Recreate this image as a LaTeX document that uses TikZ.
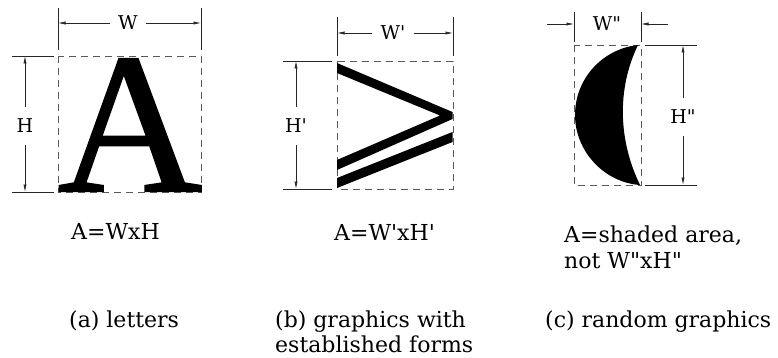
\documentclass[tikz,border=0pt]{standalone}
\usepackage{fontspec}
\usetikzlibrary{arrows.meta}
\newfontfamily\capfont{DejaVu Serif}
\newfontfamily\bigAfont{Liberation Serif}[FakeBold=1]
\tikzset{
  ink/.style={line width=0.7pt, draw=black!85},
  dimarrow/.style={ink, -{Latex[length=7.5pt,width=3.2pt]}},
  dashbox/.style={line width=0.9pt, draw=black!65, dash pattern=on 7pt off 5pt},
  dimtext/.style={font=\capfont\fontsize{19}{19}\selectfont, text height=14pt, text depth=0pt},
  hlabel/.style={dimtext, inner xsep=8pt, inner ysep=2pt},
  vlabel/.style={dimtext, inner xsep=2pt, inner ysep=12pt},
  caption/.style={anchor=base west, inner sep=0pt, font=\capfont\fontsize{22}{22}\selectfont},
}
\begin{document}
\begin{tikzpicture}[x=1pt,y=-1pt]
\useasboundingbox (0,0) rectangle (778,358);

% ---------------- (a) letters ----------------
\coordinate (aTL) at (58,56);
\coordinate (aBR) at (201,192);
\draw[dashbox] (aTL) rectangle (aBR);
\node[anchor=base, inner sep=0pt, text depth=0pt, font=\bigAfont\fontsize{200}{200}\selectfont] (Aglyph) at (130,191) {A};
% extension lines
\coordinate (aExL1) at (58,8);   \coordinate (aExL2) at (58,50);
\coordinate (aExR1) at (201,8);  \coordinate (aExR2) at (201,50);
\coordinate (aExT1) at (12,56);  \coordinate (aExT2) at (54,56);
\coordinate (aExB1) at (12,192); \coordinate (aExB2) at (54,192);
\draw[ink] (aExL1) -- (aExL2);
\draw[ink] (aExR1) -- (aExR2);
\draw[ink] (aExT1) -- (aExT2);
\draw[ink] (aExB1) -- (aExB2);
% W dimension
\coordinate (aWl) at (58,23); \coordinate (aWr) at (201,23);
\node[hlabel] (aW) at (128,23) {W};
\draw[dimarrow] (aW.west) -- (aWl);
\draw[dimarrow] (aW.east) -- (aWr);
% H dimension
\coordinate (aHt) at (25,56); \coordinate (aHb) at (25,192);
\node[vlabel] (aH) at (25,126) {H};
\draw[dimarrow] (aH.north) -- (aHt);
\draw[dimarrow] (aH.south) -- (aHb);

% ---------------- (b) graphics with established forms ----------------
\coordinate (bTL) at (337,61);
\coordinate (bBR) at (453,189);
\draw[dashbox] (bTL) rectangle (bBR);
\fill (337,63) -- (452.5,112) -- (452.5,119) -- (337,170) -- (337,160) -- (440,115.5) -- (337,73) -- cycle;
\fill (452.5,132) -- (452.5,142) -- (337,188) -- (337,178) -- cycle;
\coordinate (bExL1) at (337,17);  \coordinate (bExL2) at (337,56);
\coordinate (bExR1) at (453,17);  \coordinate (bExR2) at (453,56);
\coordinate (bExT1) at (283,61);  \coordinate (bExT2) at (332,61);
\coordinate (bExB1) at (283,189); \coordinate (bExB2) at (332,189);
\draw[ink] (bExL1) -- (bExL2);
\draw[ink] (bExR1) -- (bExR2);
\draw[ink] (bExT1) -- (bExT2);
\draw[ink] (bExB1) -- (bExB2);
\coordinate (bWl) at (337,33); \coordinate (bWr) at (453,33);
\node[hlabel] (bW) at (393,33) {W'};
\draw[dimarrow] (bW.west) -- (bWl);
\draw[dimarrow] (bW.east) -- (bWr);
\coordinate (bHt) at (296,61); \coordinate (bHb) at (296,189);
\node[vlabel] (bH) at (296,126) {H'};
\draw[dimarrow] (bH.north) -- (bHt);
\draw[dimarrow] (bH.south) -- (bHb);

% ---------------- (c) random graphics ----------------
\coordinate (cTL) at (574,45);
\coordinate (cBR) at (641,185);
\draw[dashbox] (cTL) rectangle (cBR);
\fill (638,45) .. controls (602,49) and (575,79) .. (575,115)
      .. controls (575,151) and (604,182.5) .. (640,185)
      .. controls (618.5,140.7) and (616.5,89.3) .. (638,45) -- cycle;
\coordinate (cExL1) at (574,12);  \coordinate (cExL2) at (574,42);
\coordinate (cExR1) at (641,12);  \coordinate (cExR2) at (641,42);
\coordinate (cExT1) at (645,45);  \coordinate (cExT2) at (697,45);
\coordinate (cExB1) at (645,185); \coordinate (cExB2) at (697,185);
\draw[ink] (cExL1) -- (cExL2);
\draw[ink] (cExR1) -- (cExR2);
\draw[ink] (cExT1) -- (cExT2);
\draw[ink] (cExB1) -- (cExB2);
\node[dimtext, inner sep=2pt] (cW) at (607,24) {W"};
\coordinate (cWa1) at (547,24); \coordinate (cWl) at (574,24);
\coordinate (cWa2) at (668,24); \coordinate (cWr) at (641,24);
\draw[dimarrow] (cWa1) -- (cWl);
\draw[dimarrow] (cWa2) -- (cWr);
\coordinate (cHt) at (683,45); \coordinate (cHb) at (683,185);
\node[vlabel] (cH) at (683,117) {H"};
\draw[dimarrow] (cH.north) -- (cHt);
\draw[dimarrow] (cH.south) -- (cHb);

% ---------------- texts ----------------
\node[caption] (fa) at (71,239) {A=WxH};
\node[caption] (fb) at (334,240) {A=W'xH'};
\node[caption] (fc1) at (564,242) {A=shaded area,};
\node[caption] (fc2) at (564,268) {not W"xH"};
\node[caption] (ca) at (69,327) {(a) letters};
\node[caption] (cb1) at (275,327) {(b) graphics with};
\node[caption] (cb2) at (275,352) {established forms};
\node[caption] (cc) at (545,327) {(c) random graphics};
\end{tikzpicture}
\end{document}
